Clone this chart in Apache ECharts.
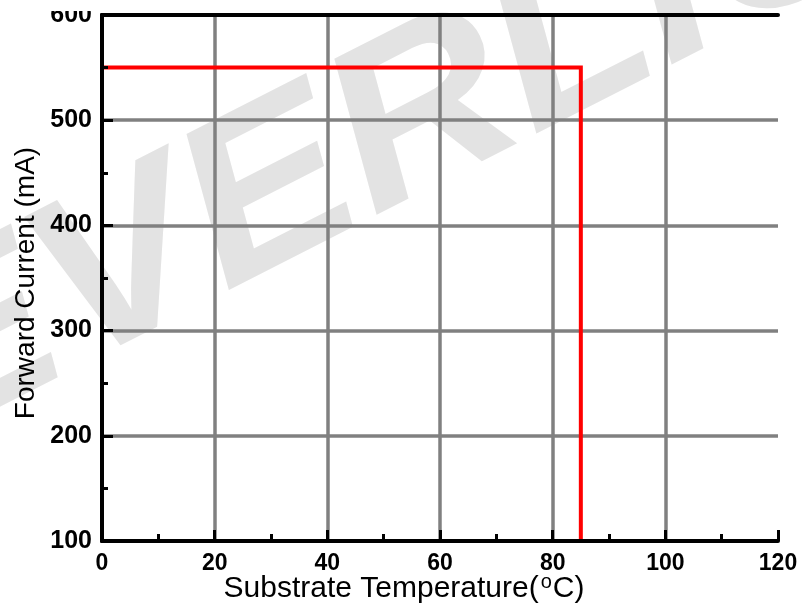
<!DOCTYPE html>
<html>
<head>
<meta charset="utf-8">
<script src="https://cdn.jsdelivr.net/npm/echarts@6/dist/echarts.min.js"></script>
<style>
html,body{margin:0;padding:0;background:#fff;}
#c{width:802px;height:616px;}
</style>
</head>
<body>
<div id="c"></div>
<script>
// Derating curve data
const temperatures = [0, 85, 85];
const currents = [550, 550, 100];
const xTicks = [0, 20, 40, 60, 80, 100, 120];
const yTicks = [100, 200, 300, 400, 500, 600];

const chart = echarts.init(document.getElementById('c'), null, {renderer: 'canvas'});
const FONT = '"Liberation Sans", Arial, sans-serif';

const seriesData = temperatures.map((t, i) => [t, currents[i]]);

chart.setOption({
  animation: false,
  backgroundColor: '#ffffff',
  grid: {left: 102, right: 24, top: 15, bottom: 75, containLabel: false},
  graphic: [
    {
      type: 'text', z: -10, silent: true,
      x: -99, y: 386, rotation: 27 * Math.PI / 180, scaleX: 1.08,
      style: {
        text: 'EVERLIGHT', fill: '#e3e3e3',
        font: 'italic bold 230px "Liberation Sans", Arial, sans-serif',
        textAlign: 'left', textVerticalAlign: 'middle'
      }
    },
    {
      type: 'rect', z: 100, silent: true,
      shape: {x: 30, y: 0, width: 70, height: 11},
      style: {fill: '#ffffff'}
    }
  ],
  xAxis: [
    {
      type: 'value', position: 'bottom', z: 5,
      min: xTicks[0], max: xTicks[xTicks.length - 1], interval: 20,
      axisLine: {show: true, lineStyle: {color: '#000', width: 4}},
      axisTick: {show: true, inside: true, length: 11, lineStyle: {color: '#000', width: 3}},
      minorTick: {show: true, splitNumber: 2, length: 7, lineStyle: {color: '#000', width: 3}},
      axisLabel: {margin: 11, color: '#000', fontFamily: FONT, fontWeight: 'bold', fontSize: 23},
      splitLine: {show: false},
      name: 'Substrate Temperature({sup|o}C)',
      nameLocation: 'middle', nameGap: 31, nameMoveOverlap: false,
      nameTextStyle: {
        color: '#000', fontFamily: FONT, fontSize: 30, padding: [0, 72, 0, 0],
        rich: {sup: {fontFamily: FONT, fontSize: 20, verticalAlign: 'top', padding: [0, 1, 14, 2], color: '#000'}}
      }
    },
    {
      type: 'value', position: 'top', z: 1,
      min: xTicks[0], max: xTicks[xTicks.length - 1], interval: 20,
      axisLine: {show: true, lineStyle: {color: '#000', width: 4}},
      axisTick: {show: false}, axisLabel: {show: false},
      splitLine: {show: true, showMinLine: false, showMaxLine: false, lineStyle: {color: '#808080', width: 3.5}}
    }
  ],
  yAxis: [
    {
      type: 'value', position: 'left', z: 5,
      min: yTicks[0], max: yTicks[yTicks.length - 1], interval: 100,
      axisLine: {show: true, lineStyle: {color: '#000', width: 4}},
      axisTick: {show: true, inside: true, length: 11, lineStyle: {color: '#000', width: 3}},
      minorTick: {show: true, splitNumber: 2, length: 6, lineStyle: {color: '#000', width: 3}},
      axisLabel: {margin: 10, color: '#000', fontFamily: FONT, fontWeight: 'bold', fontSize: 25},
      splitLine: {show: false},
      name: 'Forward Current (mA)',
      nameLocation: 'middle', nameGap: 62, nameMoveOverlap: false,
      nameTextStyle: {color: '#000', fontFamily: FONT, fontSize: 28, padding: [0, 10, 0, 0]}
    },
    {
      type: 'value', position: 'right', z: 1,
      min: yTicks[0], max: yTicks[yTicks.length - 1], interval: 100,
      axisLine: {show: true, lineStyle: {color: '#000', width: 4}},
      axisTick: {show: false}, axisLabel: {show: false},
      splitLine: {show: true, showMinLine: false, showMaxLine: false, lineStyle: {color: '#808080', width: 3.5}}
    }
  ],
  series: [
    {
      type: 'line', xAxisIndex: 0, yAxisIndex: 0, z: 3,
      data: seriesData,
      symbol: 'none',
      lineStyle: {color: '#ff0000', width: 4, join: 'miter'}
    }
  ]
});
</script>
</body>
</html>
